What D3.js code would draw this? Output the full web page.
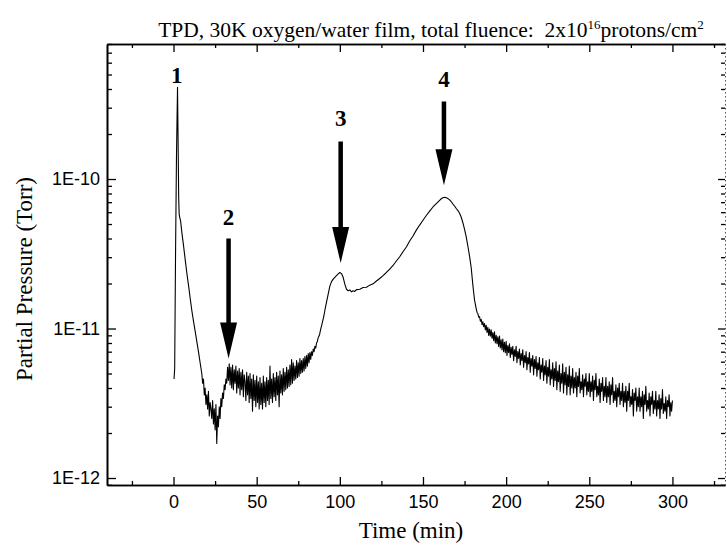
<!DOCTYPE html>
<html>
<head>
<meta charset="utf-8">
<script src="https://cdn.jsdelivr.net/npm/d3@7"></script>
<style>
  body { margin: 0; background: #fff; }
  text { fill: #000; }
</style>
</head>
<body>
<svg id="chart" width="727" height="549"></svg>
<script>
// TPD trace: [time (min), partial pressure in units of 1e-12 Torr]
const trace = [
  [0.3,4.6],[0.7,5.4],[1.2,30],[1.8,150],[2.4,410],[2.8,160],[3.1,75],[3.4,58],[3.8,55],[4.3,52],
  [5,44],[6,36],[7,29],[8,23.5],[9,19.5],[10,16],[11,13.2],[12,11.2],[13,9.6],[14,8.2],[15,7.0],[16,5.9],
  [17,5.0],[17.5,4.3],[18,4.6],[18.5,3.6],[19,4.0],[19.5,3.1],[20,3.6],[20.5,2.9],[21,3.8],[21.5,2.6],
  [22,3.2],[22.5,2.9],[23,2.5],[23.5,3.3],[24,2.3],[24.5,2.9],[25,2.1],[25.5,3.1],[26,1.7],[26.5,2.6],
  [27,2.2],[27.5,3.0],[28,2.5],[28.5,3.4],[29,3.0],[29.5,3.7],[30,3.4],[30.5,4.2],[31,3.9],[31.5,4.6],
  [32,4.3],[32.5,5.5],[33,4.5],[33.5,5.8],[34,4.2],[34.5,5.5],[35,4.0],[35.5,5.7],[36,3.9],[36.5,5.3],
  [37,4.3],[37.5,5.6],[38,3.7],[38.5,5.2],[39,4.0],[39.5,5.4],[40,3.6],[40.5,5.1],[41,3.9],[41.5,5.3],
  [42,3.5],[42.5,4.9],[43,4.4],[43.5,3.3],[44,5.1],[44.5,3.6],[45,4.8],[45.5,3.2],[46,5.0],[46.5,3.4],
  [47,4.6],[47.5,2.8],[48,4.9],[48.5,3.3],[49,4.5],[49.5,3.0],[50,4.8],[50.5,3.2],[51,4.4],[51.5,2.9],
  [52,4.7],[52.5,3.1],[53,4.3],[53.5,2.9],[54,4.8],[54.5,3.2],[55,4.4],[55.5,3.0],[56,4.7],[56.5,3.3],
  [57,4.5],[57.5,3.1],[58,5.6],[58.5,3.4],[59,4.6],[59.5,3.2],[60,5.0],[60.5,3.5],[61,4.7],[61.5,3.3],
  [62,5.1],[62.5,3.6],[63,4.8],[63.5,3.0],[64,5.2],[64.5,3.7],[65,4.9],[65.5,3.6],[66,5.4],[66.5,3.8],
  [67,5.1],[67.5,3.9],[68,5.5],[68.5,4.0],[69,5.3],[69.5,4.1],[70,5.7],[70.5,4.2],[71,6.2],[71.5,4.3],
  [72,5.9],[72.5,4.5],[73,5.6],[73.5,4.6],[74,6.1],[74.5,4.7],[75,5.9],[75.5,4.8],[76,6.3],[76.5,5.0],
  [77,6.1],[77.5,5.1],[78,6.3],[78.5,5.2],[79,6.5],[79.5,5.4],[80,6.6],[80.5,5.6],[81,6.8],[81.5,5.9],
  [82,6.9],[82.5,6.2],[83,7.0],[83.5,6.6],[84,7.3],[84.5,7.0],[85,7.6],[85.5,7.4],[86,8.0],[86.5,8.2],
  [87,8.7],[87.5,8.9],[88,9.3],[88.5,9.9],[89,10.4],[89.5,11.0],[90,11.6],[90.5,12.3],[91,13.2],
  [91.5,14.1],[92,15.0],[93,17.0],[94,19.2],[95,20.6],
  [96,21.4],[97,22.0],[98,22.6],[99,23.2],[100,23.7],[101,23.3],[102,22.0],[103,19.8],[104,18.3],
  [105,17.9],[106,18.1],[107,17.6],[108,17.9],[109,17.7],[110,18.2],[112,18.3],[114,18.8],
  [116,18.9],[118,19.5],[120,19.9],[122,20.8],[124,21.6],[126,22.6],[128,23.7],[130,25.0],
  [132,26.4],[134,28.3],[136,30.2],[138,32.6],[140,35.1],[142,38.5],[144,41.6],[146,45.5],
  [148,49.2],[150,53.0],[152,57.0],[154,61.0],[156,65.0],[158,68.5],[160,72.0],[161,73.8],
  [162,75.0],[163,75.5],[164,75.0],[165,74.0],[166,72.5],[167,70.5],[168,68.0],[169,66.0],
  [170,63.5],[171,61.5],[172,59.0],[173,55.5],[174,51.0],[175,46.0],[176,41.0],[177,35.5],
  [178,30.5],[179,25.5],[180,19.5],[181,15.5],
  [182,13.6],[182.5,12.8],[183,12.6],[183.5,11.9],[184,12.0],[184.5,11.2],[185,11.5],[185.5,10.6],
  [186,11.1],[186.5,10.3],[187,10.8],[187.5,9.8],[188,10.5],[188.5,9.4],[189,10.2],[189.5,9.0],
  [190,9.9],[190.5,8.9],[191,9.8],[191.5,8.6],[192,9.4],[192.5,8.3],[193,9.5],[193.5,8.0],
  [194,9.0],[194.5,7.9],[195,8.8],[195.5,7.6],[196,8.9],[196.5,7.4],[197,8.4],[197.5,7.2],
  [198,8.5],[198.5,7.0],[199,8.1],[199.5,6.9],[200,8.2],[200.5,6.6],[201,7.7],[201.5,6.9],
  [202,7.9],[202.5,6.4],[203,7.5],[203.5,6.7],[204,7.6],[204.5,6.1],[205,7.2],[205.5,6.5],
  [206,7.6],[206.5,5.9],[207,7.0],[207.5,6.3],[208,7.3],[208.5,5.7],[209,6.8],[209.5,6.1],
  [210,7.2],[210.5,5.5],[211,6.6],[211.5,5.9],[212,7.0],[212.5,5.3],[213,6.4],[213.5,5.8],
  [214,6.9],[214.5,5.1],[215,6.3],[215.5,5.6],[216,6.6],[216.5,4.9],[217,6.2],[217.5,5.4],
  [218,6.5],[218.5,4.8],[219,5.9],[219.5,5.3],[220,6.4],[220.5,4.6],[221,5.7],[221.5,5.1],
  [222,6.3],[222.5,4.5],[223,5.6],[223.5,4.9],[224,6.1],[224.5,4.3],[225,5.5],[225.5,4.8],
  [226,6.2],[226.5,4.2],[227,5.3],[227.5,4.6],[228,5.9],[228.5,4.1],[229,5.4],[229.5,4.5],
  [230,6.0],[230.5,3.9],[231,5.2],[231.5,4.4],[232,5.7],[232.5,3.8],[233,5.0],[233.5,4.3],
  [234,5.8],[234.5,3.7],[235,5.1],[235.5,4.2],[236,5.5],[236.5,3.6],[237,4.9],[237.5,4.1],
  [238,5.6],[238.5,3.6],[239,4.8],[239.5,4.0],
  [240,5.4],[240.5,3.7],[241,4.7],[241.5,4.0],[242,5.1],[242.5,3.5],[243,4.8],[243.5,4.1],
  [244,5.4],[244.5,3.7],[245,4.4],[245.5,3.9],[246,4.9],[246.5,3.5],[247,4.6],[247.5,4.1],
  [248,5.0],[248.5,3.6],[249,4.4],[249.5,3.8],[250,5.0],[250.5,3.5],[251,4.4],[251.5,3.8],
  [252,4.8],[252.5,3.3],[253,4.5],[253.5,3.9],[254,5.0],[254.5,3.5],[255,4.1],[255.5,3.6],
  [256,4.6],[256.5,3.2],[257,4.3],[257.5,3.8],[258,4.7],[258.5,3.3],[259,4.1],[259.5,3.5],
  [260,4.7],[260.5,3.2],[261,4.1],[261.5,3.5],[262,4.4],[262.5,3.1],[263,4.2],[263.5,3.6],
  [264,4.7],[264.5,3.2],[265,3.8],[265.5,3.3],[266,4.2],[266.5,3.0],[267,4.0],[267.5,3.5],
  [268,4.3],[268.5,3.1],[269,3.8],[269.5,3.3],[270,4.3],[270.5,3.0],[271,3.8],[271.5,3.2],
  [272,4.1],[272.5,2.8],[273,3.8],[273.5,3.3],[274,4.3],[274.5,3.0],[275,3.5],[275.5,3.1],
  [276,3.9],[276.5,2.6],[277,3.7],[277.5,3.3],[278,4.0],[278.5,2.8],[279,3.5],[279.5,3.0],
  [280,4.0],[280.5,2.8],[281,3.5],[281.5,3.0],[282,3.8],[282.5,2.5],[283,3.6],[283.5,3.1],
  [284,4.1],[284.5,2.8],[285,3.3],[285.5,2.9],[286,3.7],[286.5,2.6],[287,3.5],[287.5,3.1],
  [288,3.8],[288.5,2.7],[289,3.3],[289.5,2.9],[290,3.8],[290.5,2.6],[291,3.3],[291.5,2.9],
  [292,3.6],[292.5,2.5],[293,3.4],[293.5,2.9],[294,3.9],[294.5,2.7],[295,3.15],[295.5,2.8],
  [296,3.5],[296.5,2.5],[297,3.3],[297.5,3.0],[298,3.6],[298.5,2.6],[299,3.2],[299.5,2.8],[300,3.3]
];

// Axis ticks
const xMajorTicks = [0, 50, 100, 150, 200, 250, 300];
const xMinorTicks = [-25, 25, 75, 125, 175, 225, 275, 325];
const yMajorTicks = [1e-12, 1e-11, 1e-10];
const yMinorMantissas = [2, 3, 4, 5, 6, 7, 8, 9];

// Peak annotations: label, time, label height, arrow top, arrow tip (Torr)
const peakLabels   = ["1", "2", "3", "4"];
const peakTimes    = [2.0, 33.1, 100.5, 162.6];
const labelLevels  = [5.0e-10, 5.6e-11, 2.56e-10, 4.7e-10];
const arrowTops    = [null, 4.0e-11, 1.78e-10, 3.3e-10];
const arrowTips    = [null, 6.3e-12, 2.74e-11, 9.1e-11];

const titleParts = ["TPD, 30K oxygen/water film, total fluence:  2x10", "16", "protons/cm", "2"];

const svg = d3.select("#chart");
const plotLeft = 107, plotRight = 725, plotTop = 44, plotBottom = 485;

const x = d3.scaleLinear().domain([-40, 331.6]).range([plotLeft, plotRight]);
const y = d3.scaleLog().domain([8.98e-13, 8.0e-10]).range([plotBottom, plotTop]);

const yDomain = y.domain();
const yMinorTicks = [];
yMajorTicks.concat([1e-9]).forEach(dec => {
  yMinorMantissas.forEach(m => {
    const v = m * dec / 10;
    if (v >= yDomain[0] && v <= yDomain[1] * 1.0001) yMinorTicks.push(v);
  });
});

const tickFont = "'Liberation Sans', Arial, sans-serif";
const serif = "'Liberation Serif', 'Times New Roman', serif";

function styleAxis(g) {
  g.selectAll("path.domain").attr("stroke", "#000").attr("stroke-width", 1.6);
  g.selectAll(".tick line").attr("stroke", "#000").attr("stroke-width", 1.3);
  g.selectAll(".tick text").attr("font-family", tickFont).attr("font-size", 18).attr("fill", "#000");
}

// bottom axis
svg.append("g").attr("transform", `translate(0,${plotBottom})`)
  .call(d3.axisBottom(x).tickValues(xMinorTicks).tickSizeInner(-4).tickSizeOuter(0).tickFormat(""))
  .call(styleAxis);
svg.append("g").attr("transform", `translate(0,${plotBottom})`)
  .call(d3.axisBottom(x).tickValues(xMajorTicks).tickSizeInner(-8).tickSizeOuter(0).tickPadding(10).tickFormat(d3.format("d")))
  .call(styleAxis);

// top axis
svg.append("g").attr("transform", `translate(0,${plotTop})`)
  .call(d3.axisTop(x).tickValues(xMinorTicks).tickSizeInner(-4).tickSizeOuter(0).tickFormat(""))
  .call(styleAxis);
svg.append("g").attr("transform", `translate(0,${plotTop})`)
  .call(d3.axisTop(x).tickValues(xMajorTicks).tickSizeInner(-8).tickSizeOuter(0).tickFormat(""))
  .call(styleAxis);

// left axis
svg.append("g").attr("transform", `translate(${plotLeft},0)`)
  .call(d3.axisLeft(y).tickValues(yMinorTicks).tickSizeInner(-5).tickSizeOuter(0).tickFormat(""))
  .call(styleAxis);
svg.append("g").attr("transform", `translate(${plotLeft},0)`)
  .call(d3.axisLeft(y).tickValues(yMajorTicks).tickSizeInner(-9).tickSizeOuter(0).tickPadding(7)
    .tickFormat(d => "1E" + Math.round(Math.log10(d))))
  .call(styleAxis);

// right axis: ticks only, faint dotted spine
svg.append("g").attr("transform", `translate(${plotRight},0)`)
  .call(d3.axisRight(y).tickValues(yMinorTicks).tickSizeInner(-4).tickSizeOuter(0).tickFormat(""))
  .call(styleAxis)
  .call(g => g.select("path.domain").attr("stroke", "#555").attr("stroke-width", 1).attr("stroke-dasharray", "1.5,2.5"));
svg.append("g").attr("transform", `translate(${plotRight},0)`)
  .call(d3.axisRight(y).tickValues(yMajorTicks).tickSizeInner(-7).tickSizeOuter(0).tickFormat(""))
  .call(styleAxis)
  .call(g => g.select("path.domain").remove());

// trace
const line = d3.line().x(d => x(d[0])).y(d => y(d[1] * 1e-12));
svg.append("path").datum(trace)
  .attr("d", line)
  .attr("fill", "none")
  .attr("stroke", "#000")
  .attr("stroke-width", 1.1)
  .attr("stroke-linejoin", "round");

// peak arrows and numbers
const shaftW = 4.5, headW = 17, headL = 36;
peakLabels.forEach((lab, i) => {
  const cx = x(peakTimes[i]);
  svg.append("text")
    .attr("x", cx).attr("y", y(labelLevels[i]))
    .attr("dy", "0.35em")
    .attr("text-anchor", "middle")
    .attr("font-family", serif).attr("font-weight", "bold").attr("font-size", 23)
    .text(lab);
  if (arrowTops[i] !== null) {
    const y0 = y(arrowTops[i]), y1 = y(arrowTips[i]);
    const yh = y1 - headL;
    const p = d3.path();
    p.moveTo(cx - shaftW / 2, y0);
    p.lineTo(cx + shaftW / 2, y0);
    p.lineTo(cx + shaftW / 2, yh);
    p.lineTo(cx + headW / 2, yh);
    p.lineTo(cx, y1);
    p.lineTo(cx - headW / 2, yh);
    p.lineTo(cx - shaftW / 2, yh);
    p.closePath();
    svg.append("path").attr("d", p.toString()).attr("fill", "#000");
  }
});

// title
const title = svg.append("text")
  .attr("x", 431).attr("y", 37)
  .attr("text-anchor", "middle")
  .attr("font-family", serif).attr("font-size", 21.5)
  .style("white-space", "pre");
title.append("tspan").text(titleParts[0]);
title.append("tspan").attr("dy", -8).attr("font-size", 13).text(titleParts[1]);
title.append("tspan").attr("dy", 8).text(titleParts[2]);
title.append("tspan").attr("dy", -8).attr("font-size", 13).text(titleParts[3]);

// axis titles
svg.append("text")
  .attr("x", (plotLeft + plotRight) / 2 - 5).attr("y", 538)
  .attr("text-anchor", "middle")
  .attr("font-family", serif).attr("font-size", 23)
  .text("Time (min)");

svg.append("text")
  .attr("transform", "translate(24,279) rotate(-90)")
  .attr("dy", "0.35em")
  .attr("text-anchor", "middle")
  .attr("font-family", serif).attr("font-size", 23)
  .text("Partial Pressure (Torr)");
</script>
</body>
</html>
